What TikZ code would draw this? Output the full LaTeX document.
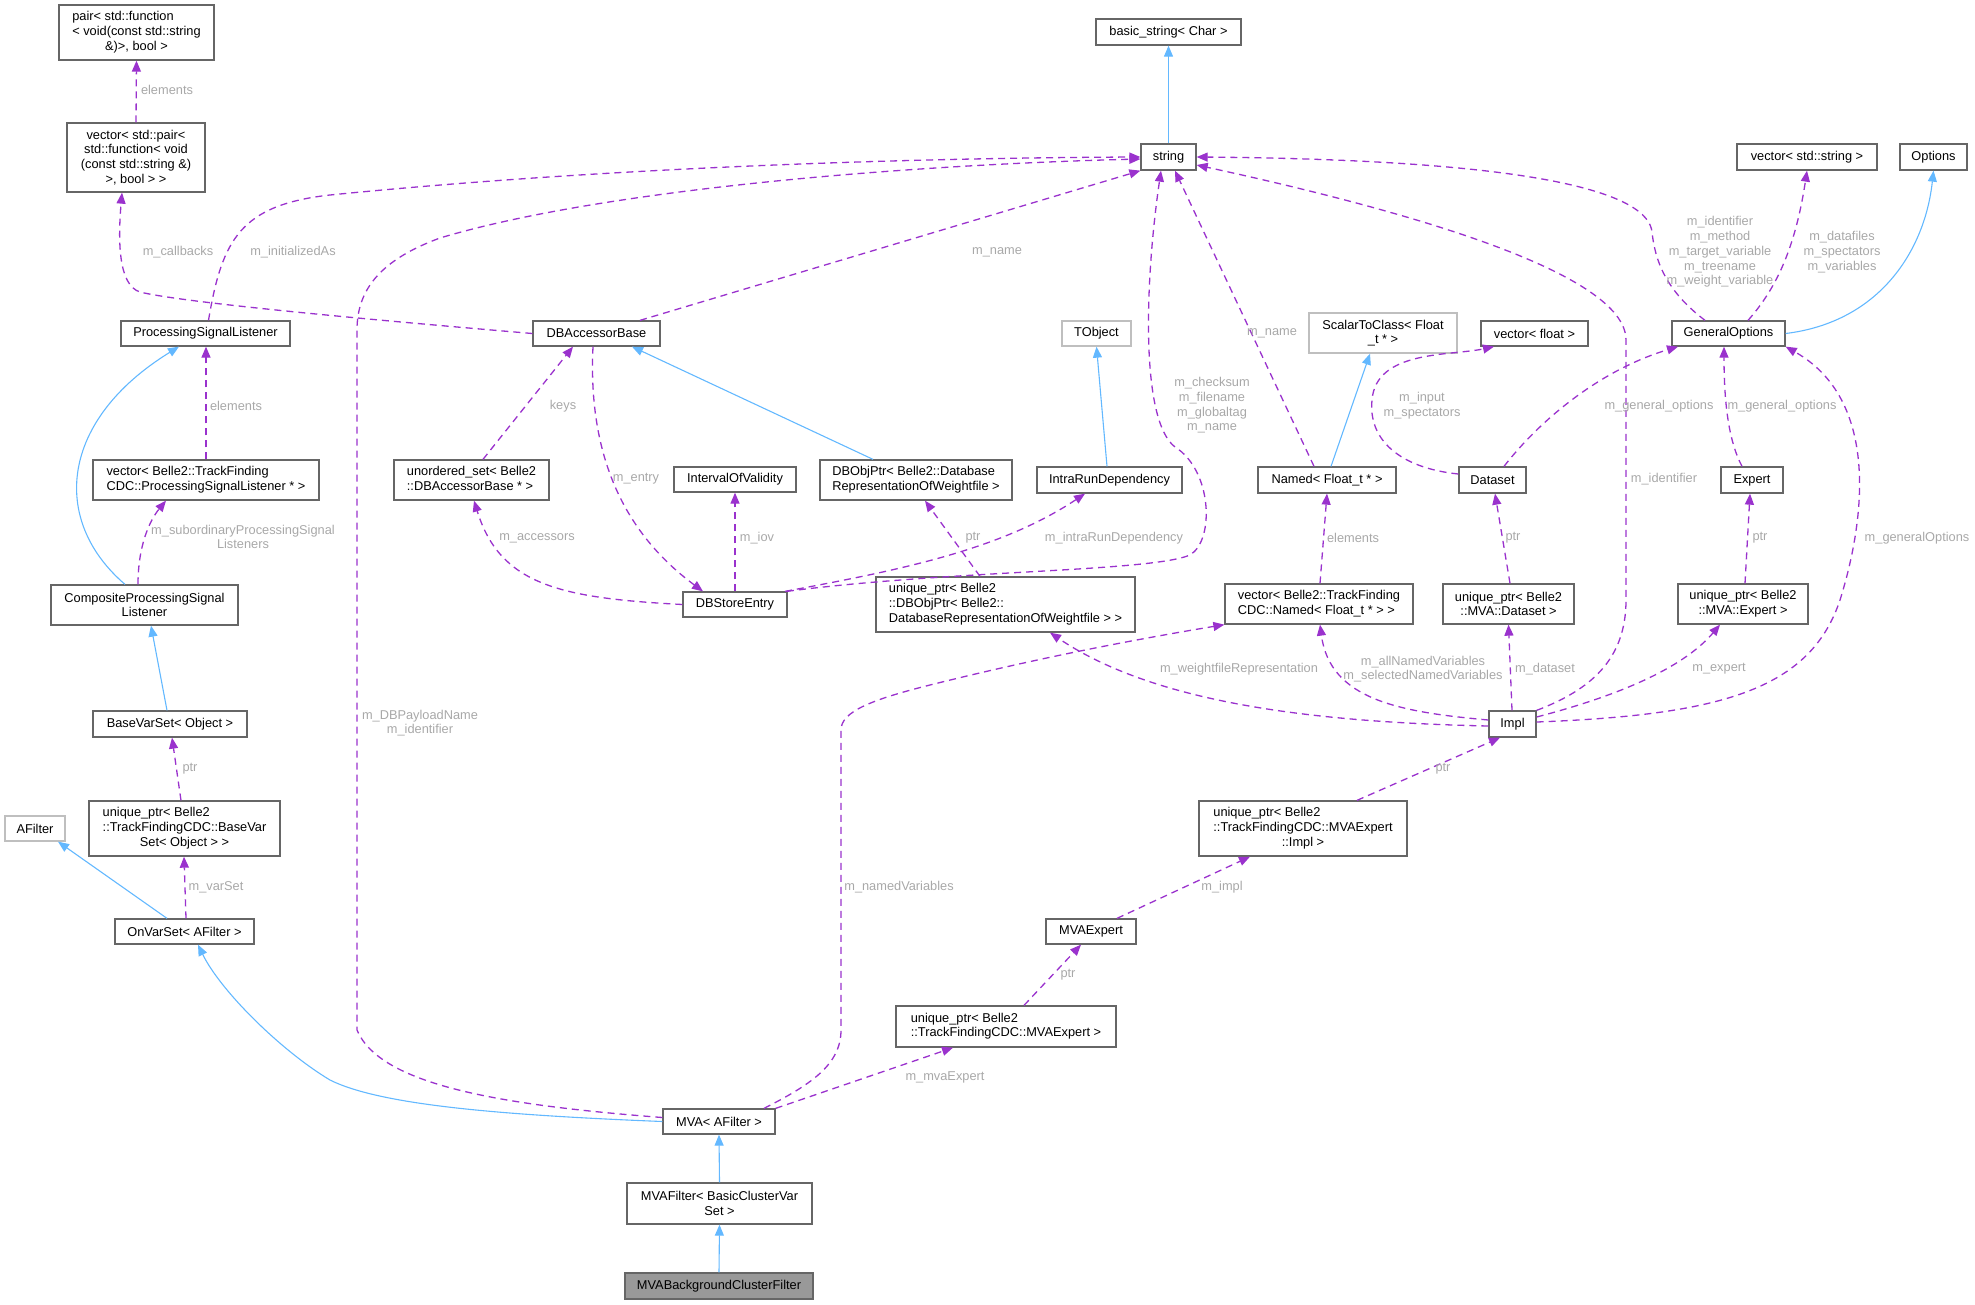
\documentclass[tikz,border=0pt]{standalone}
\usepackage{fontspec}
\newfontfamily\dfont{Liberation Sans}
\usetikzlibrary{arrows.meta}
\definecolor{purp}{HTML}{9A32CD}
\definecolor{blu}{HTML}{63B8FF}
\definecolor{bgray}{HTML}{666666}
\definecolor{lgray}{HTML}{BFBFBF}
\definecolor{lblc}{HTML}{A8A8A8}
\definecolor{fillg}{HTML}{999999}
\newcommand{\tl}[1]{\begin{tabular}{@{}l@{}}#1\end{tabular}}
\newcommand{\lc}[1]{\multicolumn{1}{@{}c@{}}{#1}}
\begin{document}
\begin{tikzpicture}[x=1pt,y=-1pt,
  every node/.style={font=\dfont\fontsize{12.8}{14.7}\selectfont},
  box/.style={draw=bgray,line width=1.3pt,fill=white,inner sep=0pt,align=center},
  lbox/.style={box,draw=lgray},
  lbl/.style={text=lblc,align=center,inner sep=0pt},
  dep/.style={draw=purp,line width=1.3pt,dash pattern=on 7pt off 5pt,-{Triangle[length=11pt,width=9pt]}},
  inh/.style={draw=blu,line width=1.1pt,-{Triangle[length=11pt,width=9pt]}}]
\useasboundingbox (0,0) rectangle (1975,1304);
% nodes
\node[box,minimum width=155pt,minimum height=55pt] (pair) at (136.5,32.5) {\tl{pair< std::function\\< void(const std::string\\\lc{\&)>, bool >}}};
\node[box,minimum width=138pt,minimum height=69pt] (vecpair) at (136,157.5) {vector< std::pair<\\std::function< void\\(const std::string \&)\\>, bool > >};
\node[box,minimum width=169pt,minimum height=25pt] (psl) at (205.5,333.5) {ProcessingSignalListener};
\node[box,minimum width=127pt,minimum height=25pt] (dbab) at (596.5,333.5) {DBAccessorBase};
\node[box,minimum width=226pt,minimum height=40pt] (vecpsl) at (206,480) {\tl{vector< Belle2::TrackFinding\\CDC::ProcessingSignalListener * >}};
\node[box,minimum width=155pt,minimum height=40pt] (uset) at (471.5,480) {\tl{unordered\_set< Belle2\\::DBAccessorBase * >}};
\node[box,minimum width=187pt,minimum height=40pt] (comp) at (144.5,605) {CompositeProcessingSignal\\Listener};
\node[box,minimum width=154pt,minimum height=26pt] (bvs) at (170,724) {BaseVarSet< Object >};
\node[box,minimum width=191pt,minimum height=55pt] (upbvs) at (184.5,828.5) {\tl{unique\_ptr< Belle2\\::TrackFindingCDC::BaseVar\\\lc{Set< Object > >}}};
\node[lbox,minimum width=60pt,minimum height=25pt] (afilter) at (35,828.5) {AFilter};
\node[box,minimum width=139pt,minimum height=25pt] (onvar) at (184.5,931.5) {OnVarSet< AFilter >};
\node[box,minimum width=112pt,minimum height=25pt] (mva) at (719,1121.5) {MVA< AFilter >};
\node[box,minimum width=185pt,minimum height=41pt] (mvafilter) at (719.5,1203.5) {MVAFilter< BasicClusterVar\\Set >};
\node[box,fill=fillg,minimum width=188pt,minimum height=26pt] (mvabg) at (719,1286) {MVABackgroundClusterFilter};
\node[box,minimum width=145pt,minimum height=26pt] (bstr) at (1168.5,32) {basic\_string< Char >};
\node[box,minimum width=55pt,minimum height=26pt] (string) at (1168.5,157) {string};
\node[lbox,minimum width=69pt,minimum height=25pt] (tobject) at (1096.5,333.5) {TObject};
\node[box,minimum width=122pt,minimum height=25pt] (ivo) at (735,479.5) {IntervalOfValidity};
\node[box,minimum width=192pt,minimum height=40pt] (dbobj) at (916,480) {\tl{DBObjPtr< Belle2::Database\\RepresentationOfWeightfile >}};
\node[box,minimum width=145pt,minimum height=26pt] (intra) at (1109.5,480) {IntraRunDependency};
\node[box,minimum width=104pt,minimum height=25pt] (dbse) at (735,604.5) {DBStoreEntry};
\node[box,minimum width=259pt,minimum height=55pt] (updbobj) at (1005.5,604.5) {\tl{unique\_ptr< Belle2\\::DBObjPtr< Belle2::\\DatabaseRepresentationOfWeightfile > >}};
\node[box,minimum width=188pt,minimum height=40pt] (vecnamed) at (1319,604) {\tl{vector< Belle2::TrackFinding\\CDC::Named< Float\_t * > >}};
\node[box,minimum width=138pt,minimum height=26pt] (named) at (1327,480) {Named< Float\_t * >};
\node[lbox,minimum width=148pt,minimum height=40pt] (scalar) at (1383,333) {ScalarToClass< Float\\\_t * >};
\node[box,minimum width=107pt,minimum height=25pt] (vecfloat) at (1534.5,333.5) {vector< float >};
\node[box,minimum width=113pt,minimum height=25pt] (genopt) at (1728.5,333.5) {GeneralOptions};
\node[box,minimum width=140pt,minimum height=26pt] (vecstr) at (1807,157) {vector< std::string >};
\node[box,minimum width=67pt,minimum height=26pt] (options) at (1933.5,157) {Options};
\node[box,minimum width=67pt,minimum height=26pt] (dataset) at (1492.5,480) {Dataset};
\node[box,minimum width=62pt,minimum height=26pt] (expert) at (1752,480) {Expert};
\node[box,minimum width=131pt,minimum height=40pt] (updataset) at (1508.5,604) {unique\_ptr< Belle2\\::MVA::Dataset >};
\node[box,minimum width=130pt,minimum height=40pt] (upexpert) at (1743,604) {unique\_ptr< Belle2\\::MVA::Expert >};
\node[box,minimum width=47pt,minimum height=26pt] (impl) at (1512.5,724) {Impl};
\node[box,minimum width=208pt,minimum height=55pt] (upimpl) at (1303,828.5) {\tl{unique\_ptr< Belle2\\::TrackFindingCDC::MVAExpert\\\lc{::Impl >}}};
\node[box,minimum width=90pt,minimum height=25pt] (mvaexpert) at (1091,931.5) {MVAExpert};
\node[box,minimum width=220pt,minimum height=41pt] (upmvaexpert) at (1006,1026.5) {\tl{unique\_ptr< Belle2\\::TrackFindingCDC::MVAExpert >}};
% inheritance
\draw[inh] (string.north) -- (bstr.south);
\draw[inh] ([xshift=-19.5pt]comp.north) .. controls (50,520) and (60,420) .. ([xshift=-26.5pt]psl.south);
\draw[inh] ([xshift=-3pt]bvs.north) -- ([xshift=6.5pt]comp.south);
\draw[inh] ([xshift=-17.5pt]onvar.north) -- ([xshift=23pt]afilter.south);
\draw[inh] (mva.west) .. controls (500,1115) and (380,1105) .. (330,1080) .. controls (280,1050) and (220,990) .. ([xshift=13.5pt]onvar.south);
\draw[inh] (mvafilter.north) -- (mva.south);
\draw[inh] (mvabg.north) -- (mvafilter.south);
\draw[inh] ([xshift=-43pt]dbobj.north) -- ([xshift=35.5pt]dbab.south);
\draw[inh] ([xshift=-2.5pt]intra.north) -- (tobject.south);
\draw[inh] ([xshift=4pt]named.north) -- ([xshift=-13pt]scalar.south);
\draw[inh] (genopt.east) .. controls (1880,322) and (1925,250) .. (options.south);
% dependencies
\draw[dep] (vecpair.north) -- (pair.south);
\draw[dep] (dbab.west) .. controls (350,318) and (180,302) .. (140,292) .. controls (118,285) and (118,240) .. ([xshift=-14pt]vecpair.south);
\draw[dep] ([xshift=3pt]psl.north) .. controls (222,240) and (240,205) .. (330,195) .. controls (600,168) and (900,158) .. (string.west);
\draw[dep] ([xshift=43.5pt]dbab.north) -- (string.south west);
\draw[dep] (vecpsl.north) -- ([xshift=0.5pt]psl.south);
\draw[dep] ([xshift=-6.5pt]comp.north) .. controls (138,545) and (150,520) .. ([xshift=-40pt]vecpsl.south);
\draw[dep] ([xshift=11.5pt]uset.north) -- ([xshift=-23.5pt]dbab.south);
\draw[dep] ([xshift=-3.5pt]dbab.south) .. controls (588,450) and (620,530) .. ([xshift=-32pt]dbse.north);
\draw[dep] (dbse.west) .. controls (560,598) and (500,585) .. ([xshift=2.5pt]uset.south);
\draw[dep] (dbse.north) -- (ivo.south);
\draw[dep] ([xshift=50pt]dbse.north) .. controls (900,570) and (1000,550) .. ([xshift=-24.5pt]intra.south);
\draw[dep] ([xshift=52pt]dbse.north) .. controls (950,570) and (1150,572) .. (1190,555) .. controls (1215,540) and (1212,470) .. (1175,447) .. controls (1140,420) and (1145,280) .. ([xshift=-7.5pt]string.south);
\draw[dep] ([xshift=-25.5pt]updbobj.north) -- ([xshift=9pt]dbobj.south);
\draw[dep] ([xshift=-13pt]named.north) -- ([xshift=6.5pt]string.south);
\draw[dep] ([xshift=1pt]vecnamed.north) -- (named.south);
\draw[dep] ([yshift=6pt]dataset.west) .. controls (1400,468) and (1368,440) .. (1372,400) .. controls (1376,350) and (1450,356) .. ([xshift=-40.5pt]vecfloat.south);
\draw[dep] ([xshift=11.5pt]dataset.north) .. controls (1540,420) and (1600,370) .. ([xshift=-50.5pt]genopt.south);
\draw[dep] ([xshift=-10pt]expert.north) .. controls (1728,440) and (1724,400) .. ([xshift=-4.5pt]genopt.south);
\draw[dep] ([xshift=-23.5pt]genopt.north) .. controls (1665,290) and (1655,260) .. (1652,232) .. controls (1648,195) and (1550,160) .. (string.east);
\draw[dep] ([xshift=19.5pt]genopt.north) .. controls (1775,290) and (1795,250) .. (vecstr.south);
\draw[dep] ([xshift=1.5pt]updataset.north) -- ([xshift=2.5pt]dataset.south);
\draw[dep] ([xshift=2pt]upexpert.north) -- ([xshift=-2pt]expert.south);
\draw[dep] (impl.north east) .. controls (1590,690) and (1626,660) .. (1626,600) -- (1626,340) .. controls (1626,280) and (1450,220) .. ([yshift=-8pt]string.east);
\draw[dep] ([yshift=2pt]impl.east) .. controls (1720,715) and (1810,690) .. (1840,600) .. controls (1865,520) and (1880,400) .. (genopt.south east);
\draw[dep] ([yshift=-2pt]impl.west) .. controls (1300,722) and (1150,700) .. ([xshift=44.5pt]updbobj.south);
\draw[dep] ([yshift=4pt]impl.west) .. controls (1400,712) and (1330,700) .. ([xshift=1pt]vecnamed.south);
\draw[dep] ([xshift=-0.5pt]impl.north) -- (updataset.south);
\draw[dep] ([yshift=7pt]impl.east) .. controls (1640,690) and (1690,660) .. ([xshift=-23pt]upexpert.south);
\draw[dep] ([xshift=54pt]upimpl.north) -- ([xshift=-12.5pt]impl.south);
\draw[dep] ([xshift=26pt]mvaexpert.north) -- ([xshift=-53pt]upimpl.south);
\draw[dep] ([xshift=18pt]upmvaexpert.north) -- ([xshift=-10pt]mvaexpert.south);
\draw[dep] (mva.north east) -- ([xshift=-53pt]upmvaexpert.south);
\draw[dep] ([xshift=45pt]mva.north) .. controls (810,1085) and (841,1065) .. (841,1030) -- (841,730) .. controls (841,712) and (870,700) .. (930,685) .. controls (1050,655) and (1150,637) .. (vecnamed.south west);
\draw[dep] ([yshift=4pt]mva.west) .. controls (500,1105) and (380,1085) .. (357,1030) -- (357,330) .. controls (357,290) and (380,260) .. (440,238) .. controls (600,190) and (900,165) .. ([yshift=-2pt]string.west);
\draw[dep] ([xshift=-3.5pt]upbvs.north) -- ([xshift=2pt]bvs.south);
\draw[dep] ([xshift=1.5pt]onvar.north) -- ([xshift=-0.5pt]upbvs.south);
% labels
\node[lbl] (l1) at (167,90) {elements};
\node[lbl] (l2) at (178,252) {m\_callbacks};
\node[lbl] (l3) at (293,252) {m\_initializedAs};
\node[lbl] (l4) at (997,252) {m\_name};
\node[lbl] (l5) at (236,406) {elements};
\node[lbl] (l6) at (563,406) {keys};
\node[lbl] (l7) at (243,537) {m\_subordinaryProcessingSignal\\Listeners};
\node[lbl] (l8) at (636,479) {m\_entry};
\node[lbl] (l9) at (537,538) {m\_accessors};
\node[lbl] (l10) at (757,538) {m\_iov};
\node[lbl] (l11) at (973,538) {ptr};
\node[lbl] (l12) at (1114,538) {m\_intraRunDependency};
\node[lbl] (l13) at (1212,405.5) {m\_checksum\\m\_filename\\m\_globaltag\\m\_name};
\node[lbl] (l14) at (1272,333) {m\_name};
\node[lbl] (l15) at (1353,538) {elements};
\node[lbl] (l16) at (1422,406) {m\_input\\m\_spectators};
\node[lbl] (l17) at (1659,406) {m\_general\_options};
\node[lbl] (l18) at (1782,406) {m\_general\_options};
\node[lbl] (l19) at (1720,252) {m\_identifier\\m\_method\\m\_target\_variable\\m\_treename\\m\_weight\_variable};
\node[lbl] (l20) at (1842,252) {m\_datafiles\\m\_spectators\\m\_variables};
\node[lbl] (l21) at (1664,479) {m\_identifier};
\node[lbl] (l22) at (1513,538) {ptr};
\node[lbl] (l23) at (1760,538) {ptr};
\node[lbl] (l24) at (1917,538) {m\_generalOptions};
\node[lbl] (l25) at (1239,669) {m\_weightfileRepresentation};
\node[lbl] (l26) at (1423,669) {m\_allNamedVariables\\m\_selectedNamedVariables};
\node[lbl] (l27) at (1545,669) {m\_dataset};
\node[lbl] (l28) at (1719,669) {m\_expert};
\node[lbl] (l29) at (1443,769) {ptr};
\node[lbl] (l30) at (1222,887) {m\_impl};
\node[lbl] (l31) at (1068,975) {ptr};
\node[lbl] (l32) at (945,1077) {m\_mvaExpert};
\node[lbl] (l33) at (899,887) {m\_namedVariables};
\node[lbl] (l34) at (420,723) {m\_DBPayloadName\\m\_identifier};
\node[lbl] (l35) at (190,769) {ptr};
\node[lbl] (l36) at (216,887) {m\_varSet};
\end{tikzpicture}
\end{document}
